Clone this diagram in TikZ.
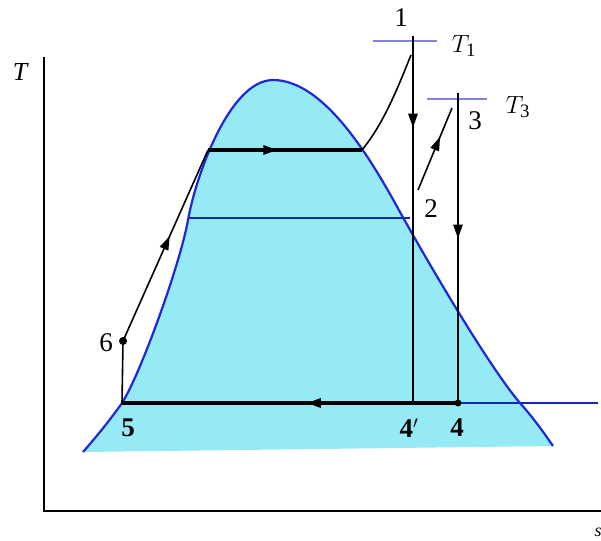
\documentclass[tikz,border=0pt]{standalone}
\usepackage{fontspec}
\setmainfont{Liberation Serif}
\usetikzlibrary{decorations.markings,arrows.meta}
\definecolor{domefill}{RGB}{150,234,246}
\definecolor{domeline}{RGB}{30,40,215}
\definecolor{tickc}{RGB}{130,130,215}
\definecolor{pline}{RGB}{20,40,170}
\tikzset{
  proc/.style={line width=1.6pt,black},
  thickproc/.style={line width=3.2pt,black},
  midarrow/.style={postaction={decorate},decoration={markings,mark=at position #1 with {\arrow{Triangle[length=14pt,width=9pt]}}}},
  lbl/.style={font=\fontsize{27}{29}\selectfont,inner sep=1pt},
  blbl/.style={font=\fontsize{27}{29}\selectfont\bfseries,inner sep=1pt},
  tick/.style={line width=1.6pt,tickc},
  axis/.style={line width=1.4pt,black},
  domepath/.style={},
}
\newcommand{\domecurve}{(83,452) .. controls (97,436) and (110,420) .. (122,403)
  .. controls (140,375) and (180,265) .. (188,220)
  .. controls (196,175) and (230,80) .. (273,80)
  .. controls (325,80) and (372,161) .. (400,212)
  .. controls (430,266) and (490,368) .. (520,403)
  .. controls (536,421) and (546,436) .. (553,446)}
\begin{document}
\begin{tikzpicture}[x=1pt,y=-1pt]
\useasboundingbox (0,0) rectangle (601,540);
% dome fill
\fill[domefill] \domecurve -- cycle;
% axes
\coordinate (O) at (44,511);
\coordinate (Ytop) at (44,57);
\coordinate (Xend) at (601,511);
\draw[axis] (Ytop) -- (O) -- (Xend);
\node[lbl,font=\fontsize{26}{28}\selectfont\itshape] (Tlab) at (20,72) {T};
\node[lbl,font=\fontsize{18}{20}\selectfont\itshape] (slab) at (598,532) {s};
% points
\coordinate (p5) at (122,403);
\coordinate (p6) at (123,341);
\coordinate (pa) at (208,150);
\coordinate (pb) at (362,150);
\coordinate (p1) at (413,36);
\coordinate (p1c) at (411,55);
\coordinate (p4p) at (413,403);
\coordinate (p2) at (418,190);
\coordinate (p3c) at (452,108);
\coordinate (p3) at (458,93);
\coordinate (p4) at (458,403);
\coordinate (mL) at (188,218);
\coordinate (mR) at (410,218);
\coordinate (bR) at (598,403);
% intermediate pressure line
\draw[line width=2pt,pline] (mL) -- (mR);
% blue extension of condenser line
\draw[line width=2pt,pline] (p4) -- (bR);
% dome outline
\draw[line width=2.2pt,domeline] \domecurve;
% cycle
\draw[thickproc,midarrow=0.45] (pa) -- (pb);
\draw[thickproc,midarrow=0.45] (p4) -- (p5);
\draw[proc] (pb) .. controls (385,122) and (400,82) .. (p1c);
\draw[tick] (373,41) -- (437,41);
\draw[tick] (427,99) -- (487,99);
\draw[line width=2.6pt,midarrow=0.25] (p1) -- (p4p);
\draw[line width=2.6pt,midarrow=0.47] (p3) -- (p4);
\draw[proc,midarrow=0.65] (p2) -- (p3c);
\draw[proc] (p5) -- (p6);
\draw[proc,midarrow=0.55] (p6) -- (pa);
\fill (p6) circle (4pt);
\fill (p4) circle (3.5pt);
% labels
\node[lbl] (l1) at (401,18) {1};
\node[lbl] (lT1) at (464,46) {$T_{\mathrm{1}}$};
\node[lbl] (l3) at (475,121) {3};
\node[lbl] (lT3) at (518,107) {$T_{\mathrm{3}}$};
\node[lbl] (l2) at (431,209) {2};
\node[lbl] (l6) at (106,343) {6};
\node[blbl] (l5) at (128,428) {5};
\node[blbl] (l4p) at (409,428) {4$'$};
\node[blbl] (l4) at (457,428) {4};
\end{tikzpicture}
\end{document}
